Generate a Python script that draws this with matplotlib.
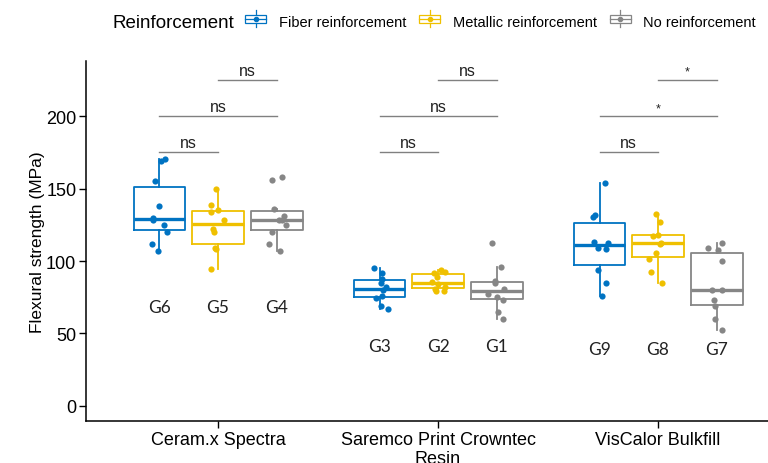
import matplotlib
matplotlib.use("Agg")
import matplotlib.pyplot as plt
from matplotlib.legend_handler import HandlerBase
from matplotlib.patches import Rectangle
from matplotlib.lines import Line2D

plt.rcParams["font.family"] = ["Liberation Sans", "DejaVu Sans"]

materials = ["Ceram.x Spectra", "Saremco Print Crowntec\nResin", "VisCalor Bulkfill"]
reinforcements = ["Fiber reinforcement", "Metallic reinforcement", "No reinforcement"]
colors = ["#0073C2", "#EFC000", "#868686"]

# flexural strength (MPa) per group
g6 = [170.3, 169.2, 155.1, 138.0, 130.0, 128.4, 124.7, 120.1, 111.5, 106.9]
g5 = [149.6, 138.5, 135.3, 133.5, 128.4, 122.4, 120.1, 108.1, 109.0, 94.3]
g4 = [157.7, 155.8, 135.8, 131.1, 128.5, 128.0, 124.7, 120.1, 112.0, 106.9]
g3 = [95.4, 91.5, 87.5, 85.0, 81.8, 80.0, 76.0, 74.5, 68.9, 67.1]
g2 = [93.8, 92.4, 91.5, 89.0, 85.5, 84.3, 82.3, 80.9, 79.5, 79.1]
g1 = [112.2, 95.9, 86.0, 85.0, 81.0, 77.4, 75.0, 73.0, 64.7, 59.7]
g9 = [154.2, 131.8, 130.4, 113.1, 112.7, 108.8, 108.1, 93.6, 85.1, 75.8]
g8 = [132.8, 127.0, 117.8, 117.3, 112.7, 111.5, 105.8, 101.7, 92.4, 84.8]
g7 = [112.7, 108.8, 107.4, 100.0, 80.0, 80.0, 72.8, 68.9, 60.2, 52.1]

# horizontal jitter of the points (category units), same order as values
j6 = [0.026, 0.008, -0.021, -0.003, -0.030, -0.028, 0.020, 0.032, -0.035, -0.008]
j5 = [-0.011, -0.030, 0.000, -0.032, 0.027, -0.023, -0.020, -0.011, -0.014, -0.030]
j4 = [0.024, -0.020, -0.012, 0.036, 0.009, 0.024, 0.042, -0.020, -0.035, 0.017]
j3 = [-0.025, 0.010, 0.013, 0.007, 0.028, 0.017, 0.013, -0.016, 0.007, 0.040]
j2 = [0.012, 0.030, -0.020, -0.003, -0.027, 0.000, 0.033, -0.015, 0.026, -0.008]
j1 = [-0.020, 0.021, -0.005, -0.005, 0.035, -0.038, 0.000, 0.030, 0.005, 0.030]
j9 = [0.023, -0.022, -0.031, -0.027, 0.039, -0.007, 0.031, -0.007, 0.031, 0.011]
j8 = [-0.011, 0.008, 0.000, -0.023, 0.014, 0.008, -0.008, -0.042, -0.031, 0.016]
j7 = [0.023, -0.037, 0.008, 0.023, -0.022, 0.023, -0.011, -0.007, -0.007, 0.023]

# [material][reinforcement]
groups = [[g6, g5, g4], [g3, g2, g1], [g9, g8, g7]]
jitters = [[j6, j5, j4], [j3, j2, j1], [j9, j8, j7]]
group_names = [["G6", "G5", "G4"], ["G3", "G2", "G1"], ["G9", "G8", "G7"]]
name_y = [68, 41, 39.5]

# pairwise comparisons: (fiber vs metallic, fiber vs none, metallic vs none)
pairs = [(0, 1), (0, 2), (1, 2)]
pair_y = [175, 200, 225]
signif = [["ns", "ns", "ns"], ["ns", "ns", "ns"], ["ns", "*", "*"]]

dodge = 0.266
box_w = 0.236


class BoxKey(HandlerBase):
    def create_artists(self, legend, orig, xd, yd, w, h, fs, trans):
        c = orig.get_color()
        cx, cy = xd + w / 2, yd + h / 2
        bw, bh = w, h * 0.7
        arts = [
            Line2D([cx, cx], [yd - h * 0.2, yd + h * 1.2], color=c, lw=0.9),
            Rectangle((cx - bw / 2, cy - bh / 2), bw, bh, fc="white", ec=c, lw=0.9),
            Line2D([cx - bw / 2, cx + bw / 2], [cy, cy], color=c, lw=0.9),
            Line2D([cx], [cy], marker="o", ms=3, color=c, lw=0),
        ]
        for a in arts:
            a.set_transform(trans)
        return arts


fig = plt.figure(figsize=(7.68, 4.64), dpi=100)
ax = fig.add_axes([0.112, 0.0905, 0.9167, 0.7755])

for i in range(3):
    for k in range(3):
        pos = i + 1 + (k - 1) * dodge
        c = colors[k]
        vals = groups[i][k]
        ax.boxplot([vals], positions=[pos], widths=box_w, whis=1.5, showfliers=False,
                   boxprops=dict(color=c, lw=1.3), whiskerprops=dict(color=c, lw=1.3),
                   capprops=dict(lw=0), medianprops=dict(color=c, lw=2.4))
        xs = [pos + d for d in jitters[i][k]]
        ax.scatter(xs, vals, s=20, color=c, zorder=3, linewidths=0)
        ax.text(pos, name_y[i], group_names[i][k], ha="center", va="center",
                fontsize=12.5, family=["Lato", "DejaVu Sans"], color="#222222")
    for p, (a, b) in enumerate(pairs):
        xa = i + 1 + (a - 1) * dodge
        xb = i + 1 + (b - 1) * dodge
        ax.plot([xa, xb], [pair_y[p], pair_y[p]], color="#808080", lw=1)
        lab = signif[i][p]
        ax.text((xa + xb) / 2, pair_y[p] + 1.5, lab, ha="center", va="bottom",
                fontsize=11.5 if lab == "ns" else 9, color="#222222")

ax.set_xlim(0.4, 3.6)
ax.set_ylim(-10.5, 238)
ax.set_xticks([1, 2, 3])
ax.set_xticklabels(materials, fontsize=13)
ax.set_yticks([0, 50, 100, 150, 200])
ax.tick_params(axis="both", labelsize=13, length=5, width=1, color="black", pad=2)
ax.set_ylabel("Flexural strength (MPa)", fontsize=12.5, labelpad=1)
for s in ["top", "right"]:
    ax.spines[s].set_visible(False)
for s in ["left", "bottom"]:
    ax.spines[s].set_linewidth(1.1)

handles = [Line2D([], [], color=c) for c in colors]
fig.text(113 / 768, 1 - 23 / 464, "Reinforcement", fontsize=13.5, va="center", ha="left")
fig.legend(handles, reinforcements, handler_map={Line2D: BoxKey()},
           loc="center left", bbox_to_anchor=(245 / 768, 1 - 23 / 464), ncol=3,
           frameon=False, fontsize=10.5, handlelength=1.45, handleheight=0.9,
           handletextpad=0.85, columnspacing=0.9, borderpad=0, borderaxespad=0)

fig.savefig("out.png", dpi=100)
